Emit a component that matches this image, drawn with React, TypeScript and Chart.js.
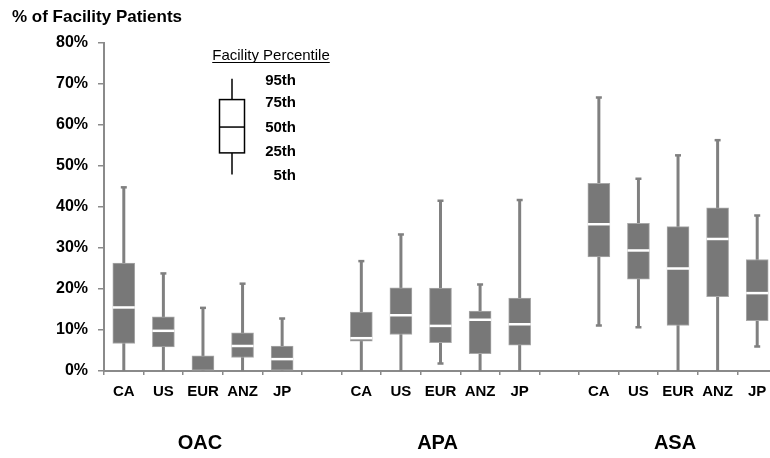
import React, { useEffect, useRef } from "react";
import { Chart, registerables } from "chart.js";

Chart.register(...registerables);

const regions = ["CA", "US", "EUR", "ANZ", "JP"];
const groups = ["OAC", "APA", "ASA"];
// values per box (OAC x5, APA x5, ASA x5), in %
const p05 = [0, 0, 0, 0, 0, 0, 0, 1.8, 0, 0, 11.1, 10.7, 0, 0, 6.0];
const p25 = [6.7, 5.9, 0, 3.3, 0, 7.3, 8.9, 6.9, 4.2, 6.3, 27.8, 22.4, 11.1, 18.1, 12.3];
const p50 = [15.5, 9.8, 0, 6.1, 2.9, 8.0, 13.6, 11.0, 12.5, 11.4, 35.8, 29.4, 25.0, 32.2, 19.0];
const p75 = [26.3, 13.2, 3.7, 9.3, 6.1, 14.4, 20.3, 20.2, 14.6, 17.8, 45.8, 36.0, 35.2, 39.8, 27.2];
const p95 = [44.8, 23.8, 15.4, 21.3, 12.8, 26.8, 33.3, 41.5, 21.1, 41.7, 66.7, 46.9, 52.6, 56.3, 37.9];
const yTicks = [0, 10, 20, 30, 40, 50, 60, 70, 80];
const legendTitle = "Facility Percentile";
const legendLabels = ["95th", "75th", "50th", "25th", "5th"];
const legendValues = [71.3, 66.2, 59.5, 53.2, 47.9];
const legendLabelValues = [70.7, 65.3, 59.2, 53.4, 47.5];
const chartTitle = "% of Facility Patients";

const FONT = "'Liberation Sans', Arial, Helvetica, sans-serif";
const BOX = "#787878";
const WHISK = "#808080";
const AXIS = "#8a8a8a";

// build category slots with one empty slot between groups
const labels: string[] = [];
const slotIdx: number[] = []; // slot index for each box
const groupCenter: number[] = [];
groups.forEach((g, gi) => {
  if (gi > 0) labels.push("");
  const start = labels.length;
  regions.forEach((r) => {
    slotIdx.push(labels.length);
    labels.push(r);
  });
  groupCenter.push(start + (regions.length - 1) / 2);
});
const toSlots = (arr: number[]) => {
  const out: (number | null)[] = labels.map(() => null);
  arr.forEach((v, i) => (out[slotIdx[i]] = v));
  return out;
};
const s05 = toSlots(p05);
const s25 = toSlots(p25);
const s50 = toSlots(p50);
const s75 = toSlots(p75);
const s95 = toSlots(p95);

const extras = {
  id: "boxExtras",
  beforeDatasetsDraw(chart: any) {
    const { ctx } = chart;
    const xs = chart.scales.x;
    const ys = chart.scales.y;
    ctx.save();
    ctx.strokeStyle = WHISK;
    labels.forEach((_, i) => {
      if (s95[i] == null) return;
      const x = xs.getPixelForValue(i);
      const yt = ys.getPixelForValue(s95[i]);
      const yb = ys.getPixelForValue(s05[i]);
      ctx.lineWidth = 3;
      ctx.beginPath();
      ctx.moveTo(x, yt);
      ctx.lineTo(x, yb);
      ctx.stroke();
      ctx.lineWidth = 2.5;
      ctx.beginPath();
      ctx.moveTo(x - 3, yt);
      ctx.lineTo(x + 3, yt);
      if ((s05[i] as number) > 0) {
        ctx.moveTo(x - 3, yb);
        ctx.lineTo(x + 3, yb);
      }
      ctx.stroke();
    });
    ctx.restore();
  },
  afterDatasetsDraw(chart: any) {
    const { ctx } = chart;
    const xs = chart.scales.x;
    const ys = chart.scales.y;
    const meta = chart.getDatasetMeta(0);
    ctx.save();
    ctx.strokeStyle = "#ffffff";
    ctx.lineWidth = 2.5;
    labels.forEach((_, i) => {
      if (s50[i] == null || s50[i] === s25[i]) return;
      const x = xs.getPixelForValue(i);
      const w = meta.data[i].width;
      const y = ys.getPixelForValue(s50[i]);
      ctx.beginPath();
      ctx.moveTo(x - w / 2, y);
      ctx.lineTo(x + w / 2, y);
      ctx.stroke();
    });
    ctx.restore();
  },
  afterDraw(chart: any) {
    const { ctx } = chart;
    const xs = chart.scales.x;
    const ys = chart.scales.y;
    ctx.save();
    ctx.fillStyle = "#000";
    // title
    ctx.font = `bold 17px ${FONT}`;
    ctx.textAlign = "left";
    ctx.textBaseline = "alphabetic";
    ctx.fillText(chartTitle, 12, 22);
    // group labels
    ctx.font = `bold 20px ${FONT}`;
    ctx.textAlign = "center";
    ctx.textBaseline = "middle";
    groups.forEach((g, gi) => {
      ctx.fillText(g, xs.getPixelForValue(groupCenter[gi]) - 3, 443);
    });
    // legend
    const cx = chart.chartArea.left + 128;
    const half = 12.5;
    const py = legendValues.map((v) => ys.getPixelForValue(v));
    ctx.strokeStyle = "#000";
    ctx.lineWidth = 1.5;
    ctx.beginPath();
    ctx.moveTo(cx, py[0]);
    ctx.lineTo(cx, py[1]);
    ctx.moveTo(cx, py[3]);
    ctx.lineTo(cx, py[4]);
    ctx.stroke();
    ctx.fillStyle = "#fff";
    ctx.fillRect(cx - half, py[1], half * 2, py[3] - py[1]);
    ctx.strokeRect(cx - half, py[1], half * 2, py[3] - py[1]);
    ctx.beginPath();
    ctx.moveTo(cx - half, py[2]);
    ctx.lineTo(cx + half, py[2]);
    ctx.stroke();
    ctx.fillStyle = "#000";
    ctx.font = `bold 15px ${FONT}`;
    ctx.textAlign = "right";
    ctx.textBaseline = "middle";
    legendLabels.forEach((t, i) => ctx.fillText(t, cx + 64, ys.getPixelForValue(legendLabelValues[i])));
    ctx.font = `15px ${FONT}`;
    ctx.textAlign = "center";
    ctx.textBaseline = "alphabetic";
    const tx = cx + 39;
    ctx.fillText(legendTitle, tx, 60);
    const tw = ctx.measureText(legendTitle).width;
    ctx.lineWidth = 1;
    ctx.strokeStyle = "#000";
    ctx.beginPath();
    ctx.moveTo(tx - tw / 2, 62.5);
    ctx.lineTo(tx + tw / 2, 62.5);
    ctx.stroke();
    ctx.restore();
  },
};

export default function App() {
  const ref = useRef<HTMLCanvasElement>(null);
  useEffect(() => {
    if (!ref.current) return;
    const chart = new Chart(ref.current, {
      type: "bar",
      data: {
        labels,
        datasets: [
          {
            data: labels.map((_, i) => (s25[i] == null ? null : [s25[i], s75[i]])) as any,
            backgroundColor: BOX,
            borderColor: "#a8a8a8",
            borderWidth: 1,
            borderSkipped: false,
            barThickness: 22,
          },
        ],
      },
      options: {
        animation: false,
        responsive: false,
        devicePixelRatio: 1,
        layout: { padding: { top: 43, left: 0, right: 3, bottom: 0 } },
        plugins: { legend: { display: false }, tooltip: { enabled: false }, title: { display: false } },
        scales: {
          x: {
            type: "category",
            offset: true,
            grid: { offset: true, drawOnChartArea: false, tickLength: 4, color: AXIS, lineWidth: 1.5 },
            border: { color: AXIS, width: 2 },
            ticks: {
              color: "#000",
              font: { family: FONT, size: 15, weight: "bold" },
              padding: 8,
              maxRotation: 0,
              autoSkip: false,
            },
            afterFit: (s: any) => {
              s.height = 87;
            },
          },
          y: {
            min: 0,
            max: 80,
            afterBuildTicks: (s: any) => {
              s.ticks = yTicks.map((v) => ({ value: v }));
            },
            grid: { drawOnChartArea: false, tickLength: 6, color: AXIS, lineWidth: 1.5 },
            border: { color: AXIS, width: 2 },
            ticks: {
              color: "#000",
              font: { family: FONT, size: 16, weight: "bold" },
              padding: 10,
              callback: (v: any) => `${v}%`,
            },
            afterFit: (s: any) => {
              s.width = 104;
            },
          },
        },
      },
      plugins: [extras],
    });
    return () => chart.destroy();
  }, []);
  return (
    <div style={{ position: "fixed", left: 0, top: 0, width: 770, height: 458, overflow: "hidden", background: "#fff" }}>
      <canvas ref={ref} width={780} height={458} style={{ width: 780, height: 458, display: "block" }} />
    </div>
  );
}
